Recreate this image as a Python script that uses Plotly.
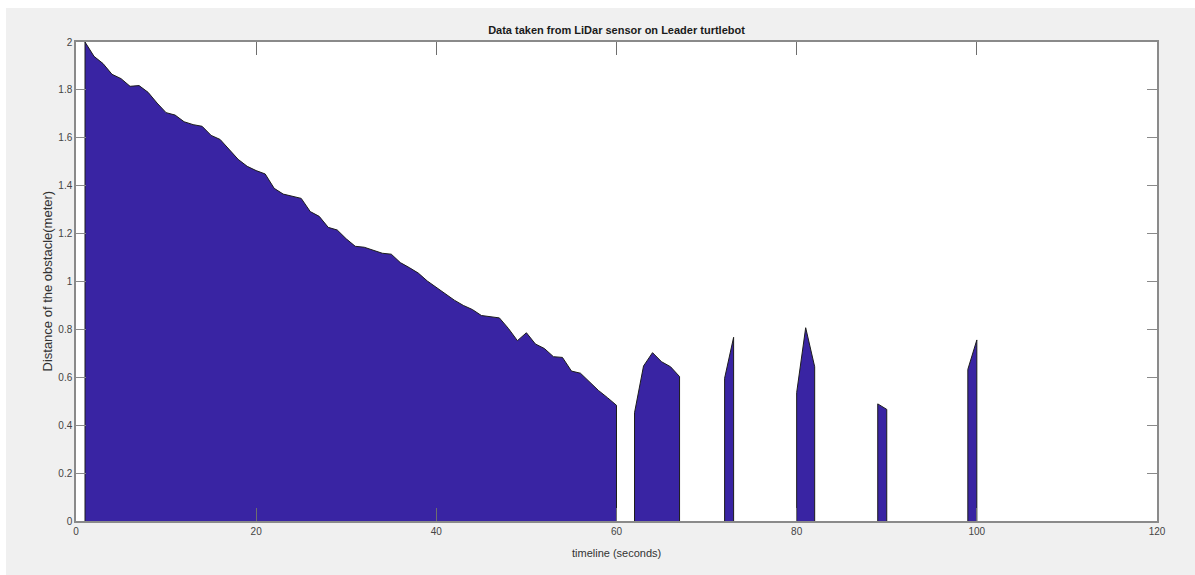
import plotly.graph_objects as go

# ---- data ----
time_s = list(range(1, 101))
distance_m = [
    2.00, 1.94, 1.91, 1.865, 1.847, 1.815, 1.818, 1.79, 1.745, 1.705,
    1.695, 1.667, 1.655, 1.648, 1.61, 1.593, 1.55, 1.51, 1.481, 1.463,
    1.449, 1.389, 1.365, 1.355, 1.347, 1.292, 1.272, 1.226, 1.215, 1.178,
    1.147, 1.143, 1.131, 1.118, 1.114, 1.079, 1.058, 1.035, 1.002, 0.976,
    0.951, 0.922, 0.90, 0.883, 0.858, 0.853, 0.848, 0.804, 0.753, 0.786,
    0.739, 0.72, 0.686, 0.683, 0.626, 0.617, 0.58, 0.545, 0.515, 0.483,
    None, 0.452, 0.647, 0.703, 0.665, 0.644, 0.603, None, None, None,
    None, 0.596, 0.767, None, None, None, None, None, None, 0.536,
    0.807, 0.644, None, None, None, None, None, None, 0.489, 0.466,
    None, None, None, None, None, None, None, None, 0.633, 0.756,
]
x_ticks = [0, 20, 40, 60, 80, 100, 120]
y_ticks = [0, 0.2, 0.4, 0.6, 0.8, 1, 1.2, 1.4, 1.6, 1.8, 2]
y_tick_text = ["0", "0.2", "0.4", "0.6", "0.8", "1", "1.2", "1.4", "1.6", "1.8", "2"]

# build closed area polygons per contiguous segment (like MATLAB area with NaN gaps)
px, py = [], []
seg = []
for t, v in zip(time_s + [None], distance_m + [None]):
    if v is None:
        if seg:
            px += [seg[0][0]] + [s[0] for s in seg] + [seg[-1][0], None]
            py += [0] + [s[1] for s in seg] + [0, None]
            seg = []
    else:
        seg.append((t, v))

FONT = "Liberation Sans, Arial, Helvetica, sans-serif"
AX = "#8a8a8a"

fig = go.Figure()
fig.add_trace(go.Scatter(
    x=px, y=py, mode="lines", fill="toself",
    fillcolor="rgb(57,36,163)",
    line=dict(color="#1c1c1c", width=1),
    connectgaps=False, hoverinfo="skip", showlegend=False,
))

fig.update_layout(
    width=1195, height=575,
    margin=dict(l=76, r=38, t=42, b=54),
    paper_bgcolor="#f0f0f0",
    plot_bgcolor="#ffffff",
    font=dict(family=FONT, size=10, color="#333333"),
    title=dict(text="<b>Data taken from LiDar sensor on Leader turtlebot</b>",
               x=0.5, xref="paper", y=1 - 30 / 575, yref="container",
               xanchor="center", yanchor="middle",
               font=dict(family=FONT, size=11, color="#1a1a1a")),
    xaxis=dict(range=[0, 120], tickvals=x_ticks, ticks="inside", ticklen=13,
               tickcolor="#6e6e6e", tickwidth=1, showline=True, linecolor=AX,
               linewidth=1.5, mirror="ticks", showgrid=False, zeroline=False,
               tickfont=dict(size=10, color="#444444")),
    yaxis=dict(range=[0, 2], tickvals=y_ticks, ticktext=y_tick_text,
               ticks="inside", ticklen=10, tickcolor=AX, tickwidth=1,
               showline=True, linecolor=AX, linewidth=1.5, mirror="ticks",
               showgrid=False, zeroline=False,
               tickfont=dict(size=10, color="#444444")),
    annotations=[
        dict(text="timeline (seconds)", x=0.5, y=0, xref="paper", yref="paper",
             xanchor="center", yanchor="middle", yshift=-32, showarrow=False,
             font=dict(family=FONT, size=11, color="#333333")),
        dict(text="Distance of the obstacle(meter)", x=0, y=0.5, xref="paper",
             yref="paper", xanchor="center", yanchor="middle", xshift=-29,
             textangle=-90, showarrow=False,
             font=dict(family=FONT, size=13, color="#333333")),
    ],
    shapes=[
        dict(type="rect", xref="paper", yref="paper", x0=-76 / 1081, x1=-70 / 1081,
             y0=-54 / 479, y1=1 + 42 / 479, fillcolor="#ffffff", line=dict(width=0),
             layer="below"),
        dict(type="rect", xref="paper", yref="paper", x0=-76 / 1081, x1=1 + 38 / 1081,
             y0=1 + 34 / 479, y1=1 + 42 / 479, fillcolor="#ffffff", line=dict(width=0),
             layer="below"),
    ],
)

fig.write_html("out.html")
